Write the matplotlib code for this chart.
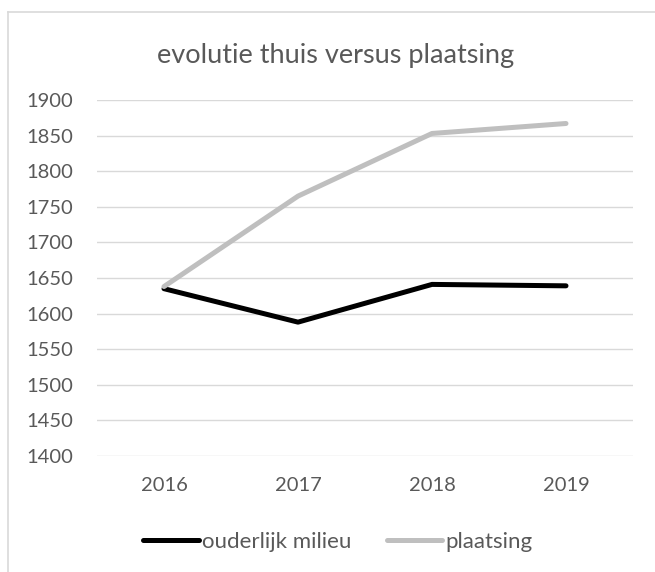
import matplotlib.pyplot as plt
from matplotlib.lines import Line2D

# data
years = ["2016", "2017", "2018", "2019"]
ouderlijk_milieu = [1635, 1588, 1641, 1639]
plaatsing = [1638, 1765, 1853, 1867]
y_ticks = list(range(1400, 1901, 50))

W, H = 655, 572
fig = plt.figure(figsize=(W / 100, H / 100), dpi=100)
fig.patch.set_facecolor("white")
plt.rcParams["font.family"] = ["Lato", "DejaVu Sans"]

txt = "#595959"
grid = "#d9d9d9"

# plot area in pixels: x 97..633, y 100..456
ax = fig.add_axes([97 / W, 1 - 456 / H, (633 - 97) / W, (456 - 100) / H])
x = list(range(len(years)))
ax.plot(x, ouderlijk_milieu, color="black", lw=3.6, solid_capstyle="round",
        label="ouderlijk milieu", zorder=3)
ax.plot(x, plaatsing, color="#bfbfbf", lw=3.6, solid_capstyle="round",
        label="plaatsing", zorder=3)

ax.set_xlim(-0.5, len(years) - 0.5)
ax.set_ylim(1400, 1900)
ax.set_xticks(x, labels=years)
ax.set_yticks(y_ticks)
for s in ax.spines.values():
    s.set_visible(False)
ax.grid(axis="y", color=grid, lw=1.0)
ax.set_axisbelow(True)
ax.tick_params(axis="both", length=0, labelsize=14.5, labelcolor=txt)
ax.tick_params(axis="y", pad=17)
ax.tick_params(axis="x", pad=15)

# title
fig.text(336 / W, 1 - 55 / H, "evolutie thuis versus plaatsing",
         ha="center", va="center", fontsize=19.5, color=txt)

# legend
handles, labels = ax.get_legend_handles_labels()
fig.legend(handles, labels, loc="center", bbox_to_anchor=(338 / W, 1 - 542 / H),
           ncol=2, frameon=False, fontsize=16, labelcolor=txt,
           handlelength=2.5, handletextpad=0.15, columnspacing=1.6)

# chart border (cut off on right and bottom)
fig.add_artist(Line2D([8 / W, 8 / W], [0, 1 - 12 / H], color=grid, lw=1.2))
fig.add_artist(Line2D([8 / W, 1], [1 - 12 / H, 1 - 12 / H], color=grid, lw=1.2))

fig.savefig("out.png", dpi=100)
